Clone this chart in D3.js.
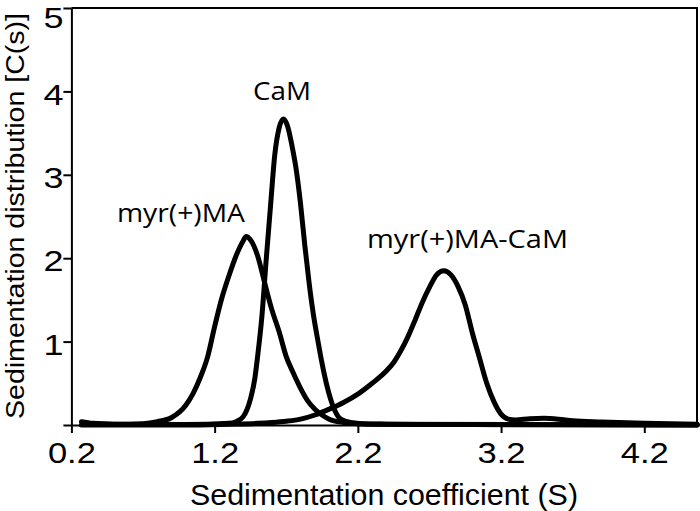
<!DOCTYPE html>
<html><head><meta charset="utf-8">
<script src="https://cdn.jsdelivr.net/npm/d3@7"></script>
<style>html,body{margin:0;padding:0;background:#fff;}</style>
</head><body>
<svg id="chart" width="700" height="511"></svg>
<script>
// Data (sedimentation coefficient S, c(s))
const sMA   = [0.27,0.35,0.5,0.6,0.7,0.8,0.9,1.0,1.05,1.1,1.15,1.2,1.25,1.3,1.35,1.4,1.42,1.45,1.5,1.55,1.6,1.65,1.7,1.75,1.8,1.85,1.9,1.95,2.0,2.1,2.2,2.4,3.0,4.57];
const vMA   = [0.04,0.02,0.01,0.01,0.015,0.04,0.09,0.24,0.38,0.57,0.81,1.18,1.52,1.79,2.03,2.21,2.26,2.22,2.03,1.70,1.38,1.12,0.82,0.62,0.44,0.29,0.19,0.12,0.07,0.03,0.015,0.01,0.005,0];
const sCaM  = [0.3,1.0,1.3,1.35,1.4,1.45,1.48,1.5,1.53,1.56,1.59,1.62,1.65,1.68,1.71,1.74,1.77,1.8,1.83,1.86,1.89,1.92,1.95,1.98,2.01,2.04,2.08,2.15,2.3,4.57];
const vCaM  = [0.01,0.005,0.02,0.04,0.10,0.31,0.55,0.82,1.30,1.98,2.62,3.24,3.56,3.67,3.58,3.35,3.06,2.65,2.15,1.70,1.32,1.02,0.74,0.50,0.31,0.17,0.07,0.03,0.01,0];
const sCplx = [0.27,1.0,1.3,1.5,1.6,1.7,1.8,1.9,2.0,2.1,2.2,2.3,2.4,2.45,2.5,2.55,2.6,2.65,2.7,2.75,2.8,2.85,2.9,2.95,3.0,3.05,3.1,3.15,3.2,3.25,3.3,3.4,3.5,3.6,3.7,3.9,4.2,4.57];
const vCplx = [0,0,0.01,0.02,0.03,0.045,0.07,0.12,0.19,0.27,0.37,0.50,0.65,0.75,0.89,1.06,1.26,1.47,1.65,1.80,1.85,1.80,1.66,1.44,1.10,0.80,0.50,0.28,0.13,0.07,0.06,0.075,0.08,0.07,0.05,0.035,0.02,0.01];
const xTicks = [0.2,1.2,2.2,3.2,4.2];
const yTicks = [0,1,2,3,4,5];
const seriesNames = ["myr(+)MA","CaM","myr(+)MA-CaM"];
const labelPos = [[0.518,2.43],[1.468,3.90],[2.264,2.12]];
const xTitle = "Sedimentation coefficient (S)";
const yTitle = "Sedimentation distribution [C(s)]";

const svg = d3.select("#chart");
const mLeft = 71.4, mRight = 697, mTop = 8, mBottom = 425;
const x = d3.scaleLinear().domain([0.2, 4.568]).range([mLeft, mRight]);
const y = d3.scaleLinear().domain([0, 5]).range([mBottom, mTop]);

function stretch(sel, k) {
  sel.each(function(){
    const w = this.getComputedTextLength();
    d3.select(this).attr("textLength", w * k).attr("lengthAdjust","spacingAndGlyphs");
  });
}
function fitTo(sel, w) {
  sel.attr("textLength", w).attr("lengthAdjust","spacingAndGlyphs");
}

// frame (top & right)
svg.append("path")
  .attr("d", `M${mLeft},${mTop}H${mRight}V${mBottom}`)
  .attr("fill","none").attr("stroke","#000").attr("stroke-width",2);

const tickFont = "Liberation Sans, Arial, sans-serif";

const xAxis = svg.append("g").attr("transform",`translate(0,${mBottom})`)
  .call(d3.axisBottom(x).tickValues(xTicks).tickFormat(d3.format(".1f")).tickSize(8).tickSizeOuter(0));
const yAxis = svg.append("g").attr("transform",`translate(${mLeft},0)`)
  .call(d3.axisLeft(y).tickValues(yTicks).tickFormat(d => d === 0 ? "" : d).tickSize(8).tickSizeOuter(0));
[xAxis, yAxis].forEach(g => {
  g.select(".domain").attr("stroke","#000").attr("stroke-width",2);
  g.selectAll(".tick line").attr("stroke","#000").attr("stroke-width",2);
  g.selectAll(".tick text").attr("fill","#000").style("font-family",tickFont).style("font-size","30px");
});
xAxis.selectAll(".tick text").attr("dy","0.95em").attr("y",9);
yAxis.selectAll(".tick text").attr("x",-8).attr("dy","0.42em")
  .attr("y", d => d === 5 ? 7 : 0);
stretch(xAxis.selectAll(".tick text"), 1.15);
stretch(yAxis.selectAll(".tick text"), 1.2);

const line = d3.line().x(d => x(d[0])).y(d => y(d[1])).curve(d3.curveMonotoneX);
const series = [d3.zip(sMA, vMA), d3.zip(sCaM, vCaM), d3.zip(sCplx, vCplx)];
svg.append("g").selectAll("path").data(series).join("path")
  .attr("d", line).attr("fill","none").attr("stroke","#000")
  .attr("stroke-width",5).attr("stroke-linejoin","round").attr("stroke-linecap","round");

const labelW = [128, 58, 201];
svg.append("g").selectAll("text").data(seriesNames).join("text")
  .attr("x",(d,i)=>x(labelPos[i][0])).attr("y",(d,i)=>y(labelPos[i][1]))
  .style("font-family","Open Sans, sans-serif").style("font-size","25px")
  .text(d=>d)
  .attr("textLength",(d,i)=>labelW[i]).attr("lengthAdjust","spacingAndGlyphs");

svg.append("text").attr("x",384).attr("y",505)
  .attr("text-anchor","middle").style("font-family",tickFont).style("font-size","29px").text(xTitle)
  .call(fitTo, 388);
svg.append("text").attr("transform",`translate(24,216) rotate(-90)`)
  .attr("text-anchor","middle").style("font-family",tickFont).style("font-size","25px").text(yTitle)
  .call(fitTo, 406);
</script>
</body></html>
